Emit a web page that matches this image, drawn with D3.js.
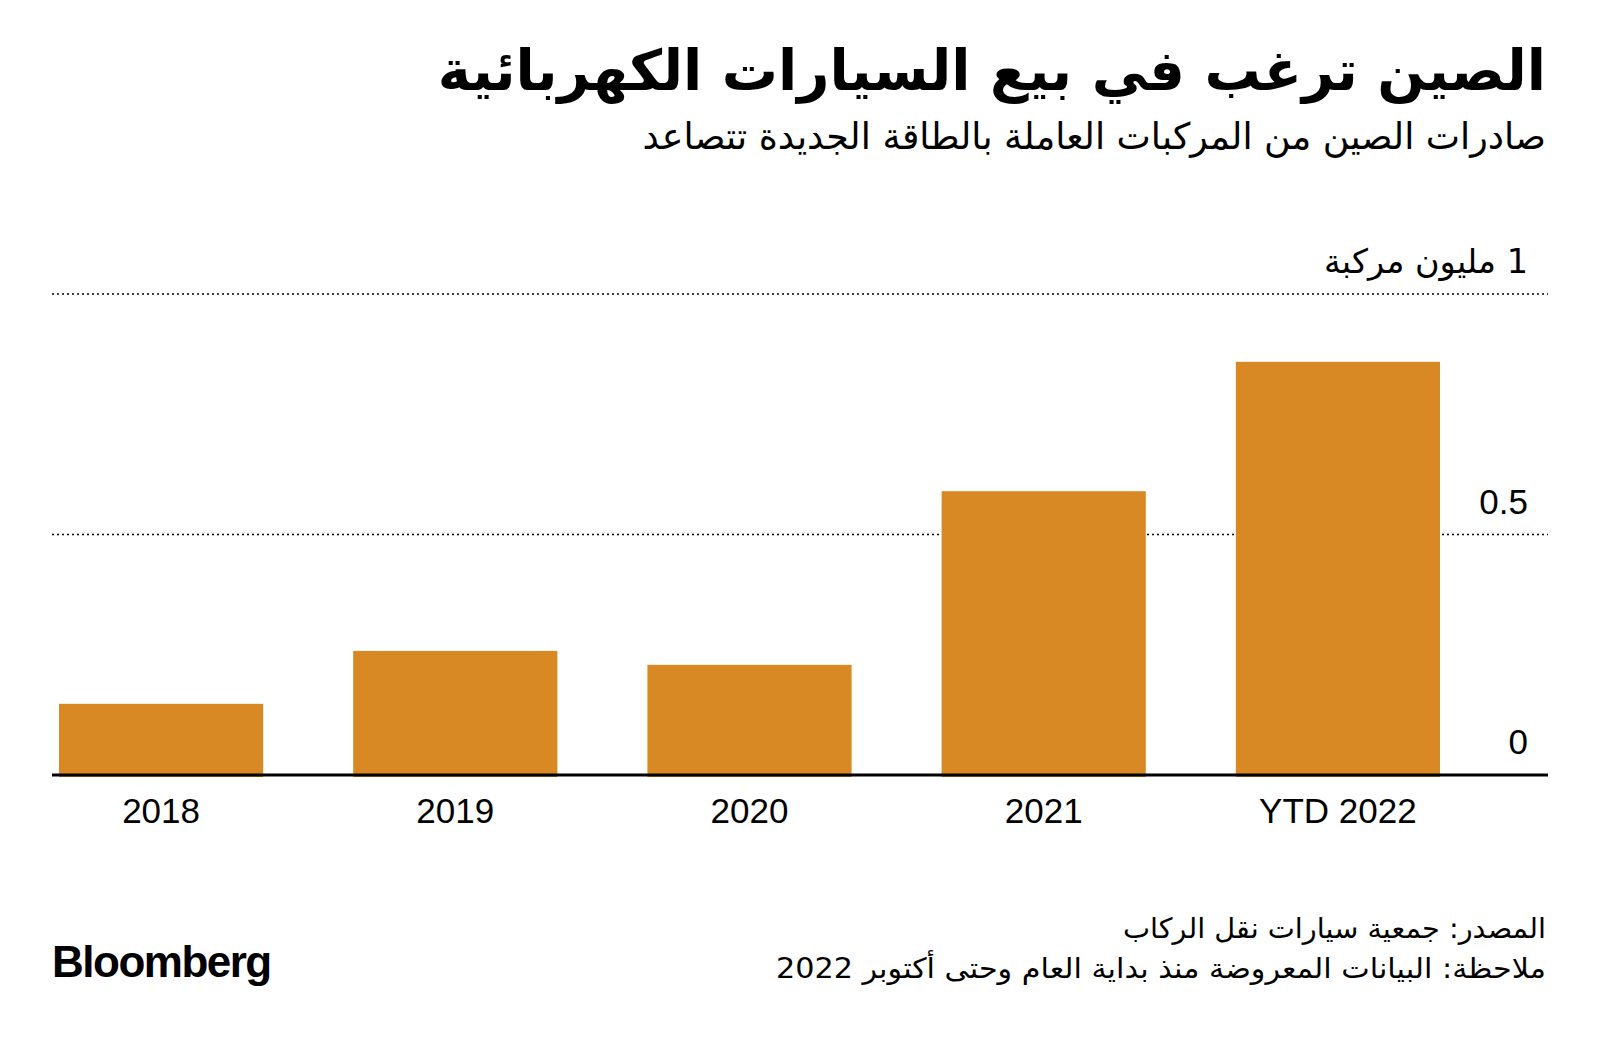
<!DOCTYPE html>
<html><head><meta charset="utf-8">
<script src="https://cdn.jsdelivr.net/npm/d3@7"></script>
<style>
html,body{margin:0;padding:0;background:#fff;}
svg{display:block;}
</style></head>
<body>
<script>
const categories = ["2018","2019","2020","2021","YTD 2022"];
const values = [0.148, 0.258, 0.229, 0.590, 0.859];
const yTicks = [0, 0.5, 1];
const yTickLabels = ["0", "0.5", "1 مليون مركبة"];
const title = "الصين ترغب في بيع السيارات الكهربائية";
const subtitle = "صادرات الصين من المركبات العاملة بالطاقة الجديدة تتصاعد";
const sourceText = "المصدر: جمعية سيارات نقل الركاب";
const noteText = "ملاحظة: البيانات المعروضة منذ بداية العام وحتى أكتوبر 2022";

const W = 1600, H = 1042;
const svg = d3.select("body").append("svg").attr("width", W).attr("height", H);
const arFont = "'DejaVu Sans', 'Noto Sans', sans-serif";
const numFont = "'Liberation Sans', Arial, 'DejaVu Sans', sans-serif";

const x = d3.scaleBand().domain(categories).range([59, 1440]).paddingInner(0.306).paddingOuter(0);
const y = d3.scaleLinear().domain([0, 1]).range([775, 294]);

// title & subtitle
svg.append("text").attr("x", 1546).attr("y", 90)
  .attr("direction", "rtl").attr("text-anchor", "start")
  .style("font-family", arFont).style("font-weight", "bold").style("font-size", "56px")
  .attr("fill", "#000").text(title);
svg.append("text").attr("x", 1546).attr("y", 149)
  .attr("direction", "rtl").attr("text-anchor", "start")
  .style("font-family", arFont).style("font-size", "36.4px")
  .attr("fill", "#000").text(subtitle);

// gridlines (dotted)
svg.append("g").selectAll("line").data(yTicks.filter(d => d > 0)).join("line")
  .attr("x1", 52).attr("x2", 1548)
  .attr("y1", d => y(d)).attr("y2", d => y(d))
  .attr("stroke", "#000").attr("stroke-width", 1.3).attr("stroke-dasharray", "2,3");

// bars
svg.append("g").selectAll("rect").data(categories).join("rect")
  .attr("x", d => x(d)).attr("width", x.bandwidth())
  .attr("y", (d, i) => y(values[i]))
  .attr("height", (d, i) => y(0) - y(values[i]) + 2)
  .attr("fill", "#d98923");

// baseline
svg.append("line").attr("x1", 52).attr("x2", 1548).attr("y1", y(0)).attr("y2", y(0))
  .attr("stroke", "#000").attr("stroke-width", 3);

// y tick labels
svg.append("g").selectAll("text").data(yTicks).join("text")
  .attr("x", 1528).attr("y", d => y(d) - 21)
  .attr("direction", "rtl").attr("text-anchor", "start")
  .style("font-family", (d, i) => i === 2 ? arFont : numFont)
  .style("font-size", (d, i) => i === 2 ? "33.5px" : "35px").attr("fill", "#000")
  .text((d, i) => yTickLabels[i]);

// x axis labels
const xAxis = d3.axisBottom(x).tickSize(0).tickPadding(0);
const gx = svg.append("g").attr("transform", `translate(0,${y(0)})`).call(xAxis);
gx.select(".domain").remove();
gx.selectAll("text").attr("y", 48).attr("dy", null)
  .style("font-family", numFont).style("font-size", "35px").attr("fill", "#000");

// footer
svg.append("text").attr("x", 1546).attr("y", 938)
  .attr("direction", "rtl").attr("text-anchor", "start")
  .attr("textLength", 423).attr("lengthAdjust", "spacingAndGlyphs")
  .style("font-family", arFont).style("font-size", "28px").attr("fill", "#000").text(sourceText);
svg.append("text").attr("x", 1546).attr("y", 978)
  .attr("direction", "rtl").attr("text-anchor", "start")
  .attr("textLength", 770).attr("lengthAdjust", "spacingAndGlyphs")
  .style("font-family", arFont).style("font-size", "28px").attr("fill", "#000").text(noteText);
svg.append("text").attr("x", 52).attr("y", 977)
  .style("font-family", numFont).style("font-weight", "bold").style("font-size", "44px")
  .style("letter-spacing", "-1.5px").attr("fill", "#000").text("Bloomberg");
</script>
</body></html>
